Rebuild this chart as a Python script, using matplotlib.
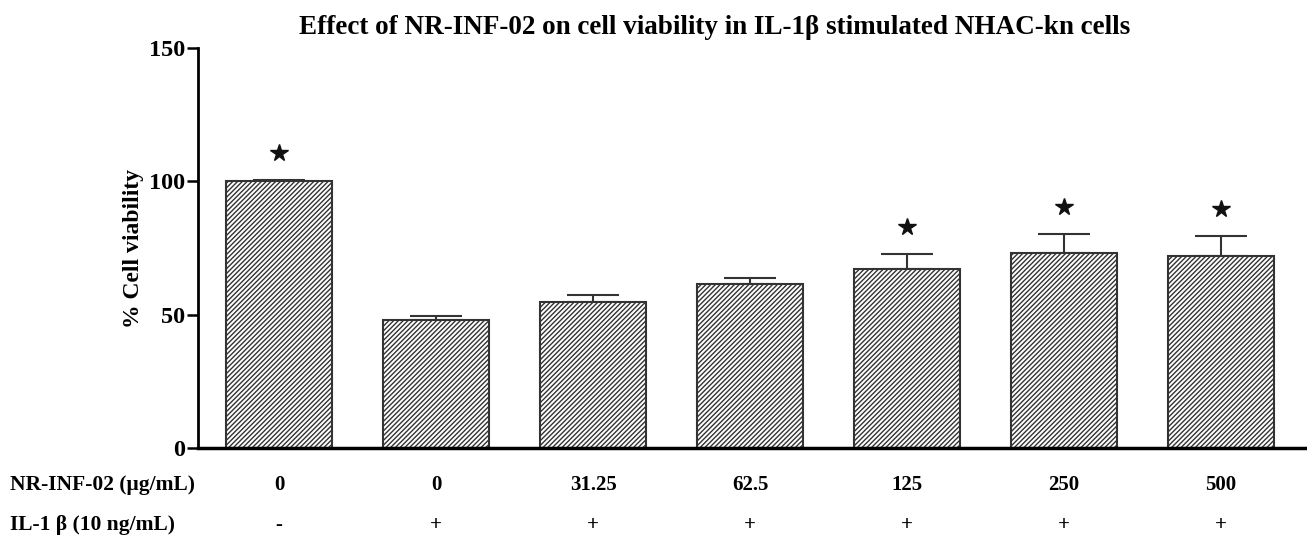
import matplotlib.pyplot as plt
import numpy as np

plt.rcParams["font.family"] = ["Liberation Serif", "DejaVu Serif"]
plt.rcParams["font.weight"] = "bold"
plt.rcParams["hatch.linewidth"] = 1.0

# values
nr_doses = ["0", "0", "31.25", "62.5", "125", "250", "500"]
il1_signs = ["-", "+", "+", "+", "+", "+", "+"]
viability = [100.2, 48.0, 54.8, 61.5, 67.1, 73.1, 72.0]
sem = [0.4, 1.5, 2.5, 2.3, 5.6, 7.1, 7.5]
significant = [True, False, False, False, True, True, True]

x = np.arange(len(viability))

fig = plt.figure(figsize=(13.07, 5.39), dpi=100)
ax = fig.add_axes([0.1515, 0.1688, 0.847, 0.7422])

ax.bar(x, viability, width=0.67, color="white", edgecolor="#333333",
       hatch="///////", linewidth=1.5, zorder=2)
ax.errorbar(x, viability, yerr=[np.zeros(len(sem)), sem], fmt="none",
            ecolor="#333333", elinewidth=1.5, capsize=19, capthick=1.5, zorder=1)

for xi, v, s, sig in zip(x, viability, sem, significant):
    if sig:
        ax.plot(xi, v + s + 10, marker="*", color="#111111", ms=13, mec="#111111", zorder=3)

ax.set_xlim(-0.516, 6.535)
ax.set_ylim(0, 150)
ax.set_yticks([0, 50, 100, 150])
ax.tick_params(axis="y", length=8, width=1.8, labelsize=17.5, pad=1)
ax.set_xticks([])
for sp in ["top", "right"]:
    ax.spines[sp].set_visible(False)
ax.spines["left"].set_linewidth(2)
ax.spines["bottom"].set_linewidth(2.5)
ax.set_ylabel("% Cell viability", fontsize=17, fontweight="bold", labelpad=4)

ax.set_title("Effect of NR-INF-02 on cell viability in IL-1\u03b2 stimulated NHAC-kn cells",
             fontsize=19.5, fontweight="bold", pad=10, x=0.467)

# treatment rows under the axis
row1_y = -0.0925
row2_y = -0.1925
ax.text(-0.17, row1_y, "NR-INF-02 (\u03bcg/mL)", transform=ax.transAxes,
        ha="left", va="center", fontsize=15.5, fontweight="bold")
ax.text(-0.17, row2_y, "IL-1 \u03b2 (10 ng/mL)", transform=ax.transAxes,
        ha="left", va="center", fontsize=15.5, fontweight="bold")
for xi, d, s in zip(x, nr_doses, il1_signs):
    ax.text(xi, row1_y, d, transform=ax.get_xaxis_transform(),
            ha="center", va="center", fontsize=15, fontweight="bold")
    ax.text(xi, row2_y, s, transform=ax.get_xaxis_transform(),
            ha="center", va="center", fontsize=15, fontweight="bold")

fig.savefig("out.png", dpi=100)
